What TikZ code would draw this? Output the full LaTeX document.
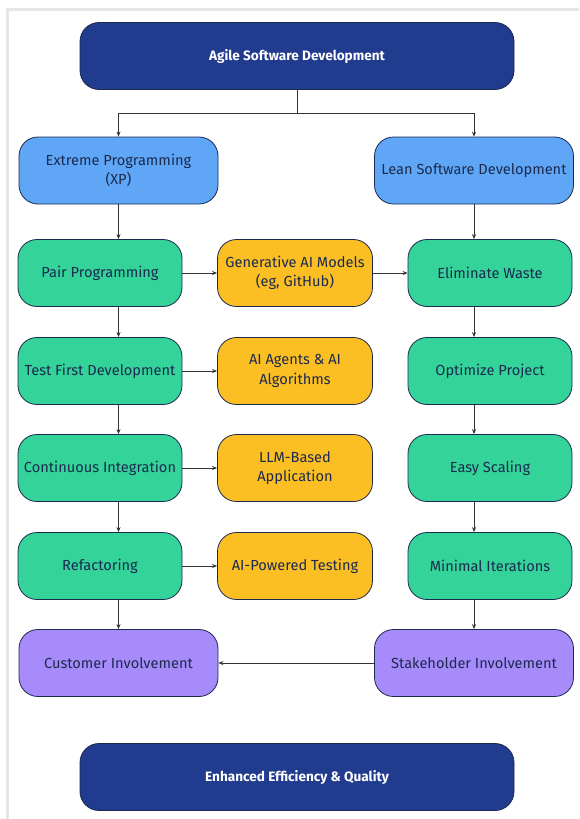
\documentclass[tikz,border=0pt]{standalone}
\usepackage{fontspec}
\setmainfont{Fira Sans}
\usetikzlibrary{arrows.meta}

\definecolor{navy}{HTML}{213B8E}
\definecolor{skyblue}{HTML}{5FA6F6}
\definecolor{mint}{HTML}{34D399}
\definecolor{amber}{HTML}{FBBF24}
\definecolor{violet}{HTML}{A78BFA}
\definecolor{inktext}{HTML}{1B2A4E}
\definecolor{framegray}{HTML}{E6E6E6}

\tikzset{
  box/.style={draw=inktext, line width=0.8pt, rounded corners=19pt, align=center,
    minimum height=67pt, text=inktext, font=\fontsize{14.6}{19.5}\selectfont, inner sep=1pt},
  header/.style={box, fill=navy, text=white, minimum width=434pt,
    font=\fontsize{13.6}{16}\selectfont\bfseries},
  method/.style={box, fill=skyblue, minimum width=199pt},
  practice/.style={box, fill=mint, minimum width=164pt},
  aitool/.style={box, fill=amber, minimum width=155pt},
  involve/.style={box, fill=violet, minimum width=199pt},
  link/.style={draw=black!80, line width=0.8pt, -{Stealth[length=5pt,width=4pt]}},
}

\begin{document}
\begin{tikzpicture}[x=1pt, y=-1pt]
  \useasboundingbox (0,0) rectangle (579,819);
  \fill[white] (0,0) rectangle (579,819);
  % light frame along the top and left edge
  \draw[framegray, line width=3pt] (7.5,819) -- (7.5,9) -- (579,9);

  % headers
  \node[header] (agile) at (297,56) {Agile Software Development};
  \node[header] (quality) at (297,777) {Enhanced Efficiency \& Quality};

  % the two methods
  \node[method] (xp) at (118.5,170.5) {Extreme Programming\\(XP)};
  \node[method] (lean) at (474,170.5) {Lean Software Development};

  % XP practices, left column
  \node[practice] (pair) at (100,273) {Pair Programming};
  \node[practice] (tfd) at (100,371) {Test First Development};
  \node[practice] (ci) at (100,468) {Continuous Integration};
  \node[practice] (refac) at (100,566) {Refactoring};

  % AI support, middle column
  \node[aitool] (genai) at (295,273) {Generative AI Models\\(eg, GitHub)};
  \node[aitool] (agents) at (295,371) {AI Agents \& AI\\Algorithms};
  \node[aitool] (llm) at (295,468) {LLM-Based\\Application};
  \node[aitool] (aitest) at (295,566) {AI-Powered Testing};

  % lean principles, right column
  \node[practice] (waste) at (490,273) {Eliminate Waste};
  \node[practice] (optim) at (490,371) {Optimize Project};
  \node[practice] (scale) at (490,468) {Easy Scaling};
  \node[practice] (iter) at (490,566) {Minimal Iterations};

  % involvement
  \node[involve] (customer) at (118.5,663) {Customer Involvement};
  \node[involve] (stake) at (474,663) {Stakeholder Involvement};

  % split from the top header
  \coordinate (split) at (agile.south |- 0,113);
  \draw[draw=black!80, line width=0.8pt] (agile.south) -- (split);
  \draw[link] (split) -| (xp.north);
  \draw[link] (split) -| (lean.north);

  % down the left column
  \draw[link] (xp.south) -- (xp.south |- pair.north);
  \foreach \a/\b in {pair/tfd, tfd/ci, ci/refac, refac/customer}
    \draw[link] (\a.south -| xp.south) -- (\b.north -| xp.south);

  % down the right column
  \foreach \a/\b in {lean/waste, waste/optim, optim/scale, scale/iter, iter/stake}
    \draw[link] (\a.south -| lean.south) -- (\b.north -| lean.south);

  % across to the AI tools
  \foreach \a/\b in {pair/genai, tfd/agents, ci/llm, refac/aitest}
    \draw[link] (\a.east) -- (\b.west);
  \draw[link] (genai.east) -- (waste.west);
  \draw[link] (stake.west) -- (customer.east);
\end{tikzpicture}
\end{document}
